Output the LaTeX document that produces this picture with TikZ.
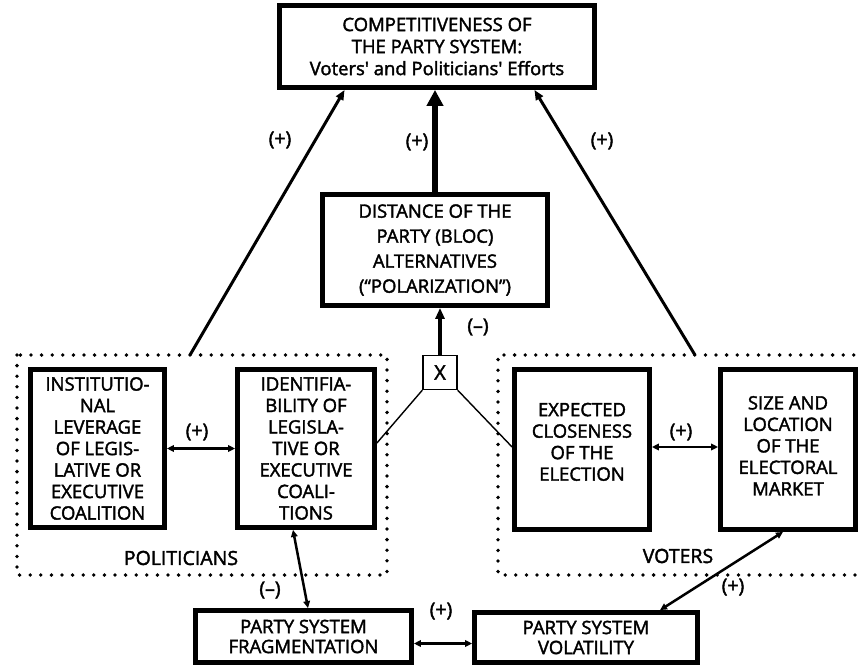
\documentclass[tikz,border=0pt]{standalone}
\usepackage{fontspec}
\setmainfont{Open Sans}[FakeBold=2]
\usetikzlibrary{arrows.meta}
\tikzset{
  box/.style={draw, line width=4.8pt, inner sep=0pt, align=center},
  txt/.style={font=\fontsize{18.5}{21.5}\selectfont},
  lbl/.style={inner sep=0pt, font=\fontsize{19.5}{20}\selectfont},
  arr/.style={line width=3pt, -{Triangle[length=10pt,width=8pt]}},
  darr/.style={line width=2.5pt, {Triangle[length=7pt,width=6.5pt]}-{Triangle[length=7pt,width=6.5pt]}},
  thinline/.style={line width=1.4pt},
  dots/.style={line width=3.8pt, line cap=round, dash pattern=on 0pt off 10.6pt},
}
\begin{document}
\begin{tikzpicture}[x=1pt,y=-1pt]
\clip (0,0) rectangle (860,669);
\fill[white] (0,0) rectangle (860,669);

% dotted group frames
\draw[dots] (17,355) rectangle (387,575);
\draw[dots] (875,355) -- (498,355) -- (498,575) -- (875,575);

% boxes
\node[box, minimum width=315pt, minimum height=82pt, font=\fontsize{18.5}{22}\selectfont] (top) at (437,46.5)
  {COMPETITIVENESS OF\\THE PARTY SYSTEM:\\Voters\textquotesingle{} and Politicians\textquotesingle{} Efforts};
\node[box, minimum width=225pt, minimum height=111pt, font=\fontsize{18.5}{25}\selectfont] (dist) at (435,250)
  {DISTANCE OF THE\\PARTY (BLOC)\\ALTERNATIVES\\(“POLARIZATION”)};
\node[box, txt, minimum width=134pt, minimum height=158pt] (inst) at (97.5,448.5)
  {INSTITUTIO-\\NAL\\LEVERAGE\\OF LEGIS-\\LATIVE OR\\EXECUTIVE\\COALITION};
\node[box, txt, minimum width=137pt, minimum height=158pt] (ident) at (306,448.5)
  {IDENTIFIA-\\BILITY OF\\LEGISLA-\\TIVE OR\\EXECUTIVE\\COALI-\\TIONS};
\node[box, txt, minimum width=135pt, minimum height=160pt] (exp) at (582,449.5)
  {EXPECTED\\CLOSENESS\\OF THE\\ELECTION\\[-6pt]};
\node[box, txt, minimum width=135pt, minimum height=160pt] (size) at (788,449.5)
  {SIZE AND\\LOCATION\\OF THE\\ELECTORAL\\MARKET\\[-14pt]};
\node[box, minimum width=216pt, minimum height=52pt, font=\fontsize{18.5}{20}\selectfont] (frag) at (303.5,636.5)
  {PARTY SYSTEM\\FRAGMENTATION};
\node[box, minimum width=223pt, minimum height=50pt, font=\fontsize{18.5}{20}\selectfont] (vol) at (586,637.5)
  {PARTY SYSTEM\\VOLATILITY};
\node[draw, thinline, minimum width=34pt, minimum height=34pt, inner sep=0pt, font=\fontsize{20}{20}\selectfont] (X) at (440,372.5) {X};

% group labels
\node[lbl] (politicians) at (181,558) {POLITICIANS};
\node[lbl] (voters) at (678,556) {VOTERS};

% connectors
\coordinate (pl) at (190,355);
\coordinate (vt) at (695,355);
\draw[arr] (pl) -- ([xshift=67.5pt]top.south west);
\draw[arr] (vt) -- ([xshift=-62.5pt]top.south east);
\draw[line width=6pt, -{Triangle[length=16pt,width=16pt]}] (dist.north) -- (dist.north |- top.south);
\draw[line width=3.8pt, -{Triangle[length=11pt,width=9pt]}] (X.north) -- (X.north |- dist.south);
\draw[thinline] (X.south west) -- ([yshift=5.5pt]ident.east);
\draw[thinline] (X.south east) -- ([yshift=2.5pt]exp.west);
\draw[darr] (inst.east) -- (ident.west);
\draw[darr] ([yshift=2.5pt]exp.east) -- ([yshift=2.5pt]size.west);
\draw[darr] ([yshift=-7pt]frag.east) -- ([yshift=-7pt]frag.east -| vol.west);
\draw[darr] ([xshift=-13pt]ident.south) -- ([xshift=4.5pt]frag.north);
\draw[darr] ([xshift=-5pt]size.south) -- ([xshift=74pt]vol.north);

% sign labels
\node[lbl] (s1) at (280,140) {(+)};
\node[lbl] (s2) at (417,142) {(+)};
\node[lbl] (s3) at (602,141) {(+)};
\node[lbl] (s4) at (478,327) {(–)};
\node[lbl] (s5) at (197,432) {(+)};
\node[lbl] (s6) at (681,432) {(+)};
\node[lbl] (s7) at (270,590) {(–)};
\node[lbl] (s8) at (441,611) {(+)};
\node[lbl] (s9) at (733,587) {(+)};
\end{tikzpicture}
\end{document}
